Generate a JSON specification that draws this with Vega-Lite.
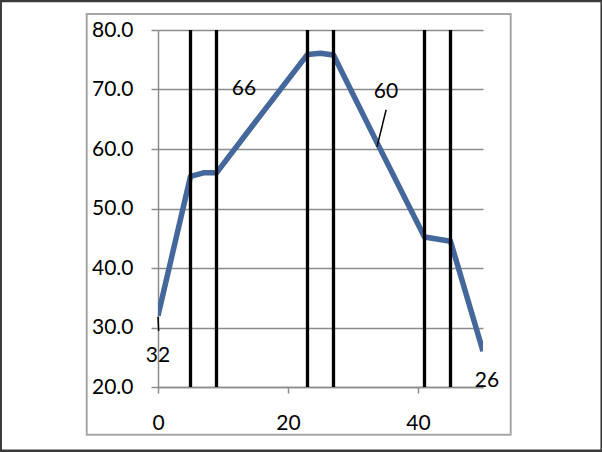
{
  "$schema": "https://vega.github.io/schema/vega-lite/v6.json",
  "width": 325,
  "height": 357,
  "autosize": {"type": "none"},
  "padding": {"left": 158, "top": 30, "right": 119, "bottom": 65},
  "background": "white",
  "config": {
    "view": {"stroke": null},
    "axis": {
      "labelFont": "Lato",
      "labelFontSize": 21,
      "labelColor": "black",
      "domainColor": "#8c8c8c",
      "domainWidth": 1.5,
      "tickColor": "#8c8c8c",
      "tickWidth": 1.5,
      "gridColor": "#8c8c8c",
      "gridWidth": 1.5,
      "title": null
    }
  },
  "datasets": {
    "series": [
      {"x": 0, "y": 32},
      {"x": 5, "y": 55.4},
      {"x": 7, "y": 56},
      {"x": 9, "y": 56},
      {"x": 16, "y": 66},
      {"x": 23, "y": 75.9},
      {"x": 25, "y": 76.1},
      {"x": 27, "y": 75.8},
      {"x": 34, "y": 60.4},
      {"x": 41, "y": 45.2},
      {"x": 45, "y": 44.5},
      {"x": 50, "y": 26}
    ],
    "dividers": [
      {"x": 5}, {"x": 9}, {"x": 23}, {"x": 27}, {"x": 41}, {"x": 45}
    ],
    "labels": [
      {"x": 0, "y": 32, "label": "32"},
      {"x": 16, "y": 66, "label": "66"},
      {"x": 34, "y": 60.4, "label": "60"},
      {"x": 50, "y": 26, "label": "26"}
    ]
  },
  "layer": [
    {
      "data": {"name": "series"},
      "mark": {"type": "line", "color": "#44679c", "strokeWidth": 5.5, "strokeJoin": "round", "clip": true},
      "encoding": {
        "x": {
          "field": "x", "type": "quantitative",
          "scale": {"domain": [0, 50], "nice": false, "zero": false},
          "axis": {"values": [0, 20, 40], "grid": false, "tickSize": 6, "labelPadding": 19, "labelFlush": false}
        },
        "y": {
          "field": "y", "type": "quantitative",
          "scale": {"domain": [20, 80], "nice": false, "zero": false},
          "axis": {"values": [20, 30, 40, 50, 60, 70, 80], "format": ".1f", "grid": true, "tickSize": 7, "labelPadding": 18}
        }
      }
    },
    {
      "data": {"name": "dividers"},
      "mark": {"type": "rule", "color": "black", "strokeWidth": 3.3},
      "encoding": {
        "x": {"field": "x", "type": "quantitative"}
      }
    },
    {
      "data": {"name": "labels"},
      "transform": [{"filter": "datum.label == '32'"}],
      "mark": {"type": "text", "font": "Lato", "fontSize": 21, "color": "black", "dy": 40},
      "encoding": {
        "x": {"field": "x", "type": "quantitative"},
        "y": {"field": "y", "type": "quantitative"},
        "text": {"field": "label"}
      }
    },
    {
      "data": {"name": "labels"},
      "transform": [{"filter": "datum.label == '66'"}],
      "mark": {"type": "text", "font": "Lato", "fontSize": 21, "color": "black", "dx": -18, "dy": -24},
      "encoding": {
        "x": {"field": "x", "type": "quantitative"},
        "y": {"field": "y", "type": "quantitative"},
        "text": {"field": "label"}
      }
    },
    {
      "data": {"name": "labels"},
      "transform": [{"filter": "datum.label == '60'"}],
      "mark": {"type": "text", "font": "Lato", "fontSize": 21, "color": "black", "dx": 7, "dy": -55},
      "encoding": {
        "x": {"field": "x", "type": "quantitative"},
        "y": {"field": "y", "type": "quantitative"},
        "text": {"field": "label"}
      }
    },
    {
      "data": {"name": "labels"},
      "transform": [{"filter": "datum.label == '26'"}],
      "mark": {"type": "text", "font": "Lato", "fontSize": 21, "color": "black", "dx": 4, "dy": 30},
      "encoding": {
        "x": {"field": "x", "type": "quantitative"},
        "y": {"field": "y", "type": "quantitative"},
        "text": {"field": "label"}
      }
    },
    {
      "data": {"values": [{}]},
      "mark": {"type": "rule", "color": "black", "strokeWidth": 1.5},
      "encoding": {
        "x": {"datum": 0}, "x2": {"datum": 0.1},
        "y": {"datum": 31.8}, "y2": {"datum": 29.4}
      }
    },
    {
      "data": {"values": [{}]},
      "mark": {"type": "rule", "color": "black", "strokeWidth": 1.5},
      "encoding": {
        "x": {"datum": 33.7}, "x2": {"datum": 35.1},
        "y": {"datum": 60.4}, "y2": {"datum": 66.6}
      }
    },
    {
      "data": {"values": [{}]},
      "mark": {"type": "rect", "fill": null, "stroke": "#a6a6a6", "strokeWidth": 2},
      "encoding": {
        "x": {"datum": -10.97}, "x2": {"datum": 54.26},
        "y": {"datum": 82.69}, "y2": {"datum": 11.99}
      }
    },
    {
      "data": {"values": [{}]},
      "mark": {"type": "rect", "fill": null, "stroke": "#3a3a3a", "strokeWidth": 2.5},
      "encoding": {
        "x": {"datum": -24.2}, "x2": {"datum": 68.26},
        "y": {"datum": 84.87}, "y2": {"datum": 9.3}
      }
    }
  ]
}
